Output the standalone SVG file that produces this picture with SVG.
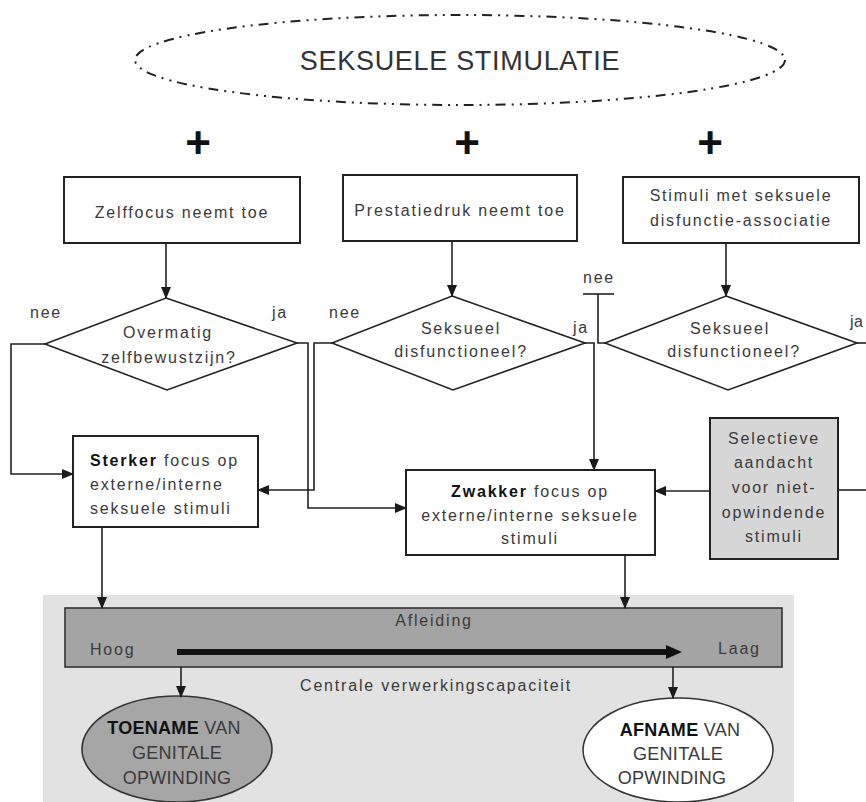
<svg xmlns="http://www.w3.org/2000/svg" width="866" height="802" viewBox="0 0 866 802">
<defs>
<marker id="arr" markerUnits="userSpaceOnUse" markerWidth="12" markerHeight="12" viewBox="0 0 12 12" refX="11" refY="6" orient="auto">
<path d="M0,1 L12,6 L0,11 Z" fill="#1a1a1a"/>
</marker>
<marker id="big" markerUnits="userSpaceOnUse" markerWidth="16" markerHeight="14" viewBox="0 0 16 14" refX="1" refY="7" orient="auto">
<path d="M0,0 L16,7 L0,14 Z" fill="#111"/>
</marker>
<style>
.t{font-family:"Liberation Sans",Arial,sans-serif;font-size:16px;letter-spacing:1.8px;fill:#3a3a3a}
.c{text-anchor:middle}
.b{font-weight:bold;fill:#111}
.e{font-family:"Liberation Sans",Arial,sans-serif;font-size:18px;letter-spacing:0.3px;fill:#3a3a3a;text-anchor:middle}
.box{fill:#fff;stroke:#222;stroke-width:2}
.dia{fill:#fff;stroke:#222;stroke-width:1.6}
.ln{fill:none;stroke:#222;stroke-width:1.6}
.ar{fill:none;stroke:#222;stroke-width:1.6;marker-end:url(#arr)}
.plus{font-family:"Liberation Sans",Arial,sans-serif;font-size:44px;font-weight:bold;fill:#111;text-anchor:middle}
</style>
</defs>
<rect width="866" height="802" fill="#fff"/>

<g id="background">
<rect x="43" y="595" width="751" height="207" fill="#e2e2e2"/>
</g>

<g id="stimulatie">
<ellipse cx="460" cy="60" rx="325" ry="45" fill="none" stroke="#222" stroke-width="2" stroke-dasharray="10 6 2 6 2 6"/>
<text x="460" y="70" style="font-family:'Liberation Sans',Arial,sans-serif;font-size:27px;letter-spacing:0.7px;fill:#333;text-anchor:middle">SEKSUELE STIMULATIE</text>
</g>

<g id="plus">
<text class="plus" x="198" y="158">+</text>
<text class="plus" x="467" y="158">+</text>
<text class="plus" x="710" y="158">+</text>
</g>

<g id="zelffocus">
<rect class="box" x="64" y="177" width="236" height="66"/>
<text class="t c" x="182" y="218">Zelffocus neemt toe</text>
</g>
<g id="prestatiedruk">
<rect class="box" x="343" y="175" width="234" height="66"/>
<text class="t c" x="460" y="216">Prestatiedruk neemt toe</text>
</g>
<g id="stimuli-assoc">
<rect class="box" x="623" y="177" width="236" height="66"/>
<text class="t c" x="741" y="201">Stimuli met seksuele</text>
<text class="t c" x="741" y="226">disfunctie-associatie</text>
</g>

<g id="diamond1">
<polygon class="dia" points="166,298 297,343 167,390 45,344"/>
<text class="t c" x="168" y="338">Overmatig</text>
<text class="t c" x="169" y="363">zelfbewustzijn?</text>
</g>
<g id="diamond2">
<polygon class="dia" points="452,296 585,343 453,390 332,343"/>
<text class="t c" x="461" y="334">Seksueel</text>
<text class="t c" x="461" y="357">disfunctioneel?</text>
</g>
<g id="diamond3">
<polygon class="dia" points="726,296 857,343 728,390 605,343"/>
<text class="t c" x="730" y="334">Seksueel</text>
<text class="t c" x="734" y="357">disfunctioneel?</text>
</g>

<g id="sterker">
<rect class="box" x="73" y="436" width="185" height="91"/>
<text class="t" x="90" y="466"><tspan class="b">Sterker</tspan> focus op</text>
<text class="t" x="90" y="490">externe/interne</text>
<text class="t" x="90" y="514">seksuele stimuli</text>
</g>
<g id="zwakker">
<rect class="box" x="406" y="470" width="249" height="85"/>
<text class="t c" x="530" y="497"><tspan class="b">Zwakker</tspan> focus op</text>
<text class="t c" x="530" y="521">externe/interne seksuele</text>
<text class="t c" x="530" y="544">stimuli</text>
</g>
<g id="selectieve">
<rect x="710" y="418" width="128" height="141" fill="#d6d6d6" stroke="#222" stroke-width="2"/>
<text class="t c" x="774" y="444">Selectieve</text>
<text class="t c" x="774" y="468">aandacht</text>
<text class="t c" x="774" y="493">voor niet-</text>
<text class="t c" x="774" y="518">opwindende</text>
<text class="t c" x="774" y="542">stimuli</text>
</g>

<g id="afleiding">
<rect x="65" y="608" width="717" height="59" fill="#a4a4a4" stroke="#333" stroke-width="1.6"/>
<text class="t c" x="434" y="626">Afleiding</text>
<text class="t" x="90" y="655">Hoog</text>
<text class="t" x="718" y="654">Laag</text>
<line x1="177" y1="652" x2="667" y2="652" stroke="#111" stroke-width="6" marker-end="url(#big)"/>
</g>
<g id="capaciteit">
<text class="t c" x="436" y="691">Centrale verwerkingscapaciteit</text>
</g>

<g id="toename">
<ellipse cx="177" cy="749" rx="95" ry="53" fill="#a6a6a6" stroke="#333" stroke-width="1.6"/>
<text class="e" x="174" y="734"><tspan font-weight="bold" fill="#111">TOENAME</tspan> VAN</text>
<text class="e" x="177" y="759">GENITALE</text>
<text class="e" x="177" y="784">OPWINDING</text>
</g>
<g id="afname">
<ellipse cx="678" cy="750" rx="95" ry="52" fill="#fff" stroke="#333" stroke-width="1.6"/>
<text class="e" x="680" y="736"><tspan font-weight="bold" fill="#111">AFNAME</tspan> VAN</text>
<text class="e" x="678" y="760">GENITALE</text>
<text class="e" x="672" y="784">OPWINDING</text>
</g>

<g id="labels">
<text class="t c" x="46" y="318">nee</text>
<text class="t c" x="280" y="318">ja</text>
<text class="t c" x="345" y="318">nee</text>
<text class="t c" x="581" y="333">ja</text>
<text class="t c" x="599" y="283">nee</text>
<text class="t" x="850" y="327" style="letter-spacing:0.5px">ja</text>
</g>

<g id="connectors">
<line class="ar" x1="166" y1="243" x2="166" y2="298"/>
<line class="ar" x1="452" y1="241" x2="452" y2="296"/>
<line class="ar" x1="726" y1="243" x2="726" y2="296"/>
<polyline class="ar" points="45,344 11,344 11,474 73,474"/>
<polyline class="ar" points="297,343 308,343 308,508 406,508"/>
<polyline class="ar" points="332,343 314,343 314,490 258,490"/>
<polyline class="ar" points="585,343 594,343 594,470"/>
<polyline class="ln" points="605,343 598,343 598,294"/>
<line class="ln" x1="583" y1="294" x2="614" y2="294" stroke-width="2.2"/>
<line class="ln" x1="857" y1="343" x2="866" y2="343"/>
<line class="ln" x1="838" y1="490" x2="866" y2="490"/>
<line class="ar" x1="710" y1="491" x2="655" y2="491"/>
<line class="ar" x1="102" y1="527" x2="102" y2="608"/>
<line class="ar" x1="625" y1="555" x2="625" y2="608"/>
<line class="ar" x1="181" y1="667" x2="181" y2="697"/>
<line class="ar" x1="673" y1="667" x2="673" y2="698"/>
</g>
</svg>
